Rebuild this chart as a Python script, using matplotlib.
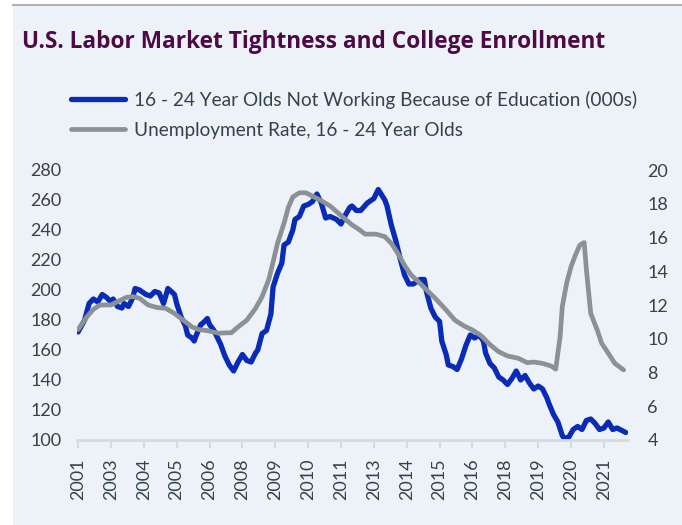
import matplotlib
matplotlib.use("Agg")
import matplotlib.pyplot as plt
from matplotlib.patches import Rectangle
from matplotlib.lines import Line2D

plt.rcParams['font.family'] = ['Lato', 'DejaVu Sans']

# month index (0 = first month shown) and values
blue_month = [0, 3, 5, 7, 9, 11, 13, 15, 16, 18, 20, 21, 23, 25, 26, 28, 31, 33, 35, 37,
              39, 41, 44, 45, 47, 49, 50, 52, 53, 54, 56, 57, 59, 60, 62, 65, 67, 69, 71, 73,
              75, 77, 79, 81, 82, 84, 86, 88, 89, 91, 93, 94, 96, 98, 99, 101, 103, 105, 107, 109,
              111, 113, 115, 118, 120, 122, 124, 125, 127, 129, 132, 135, 137, 140, 141, 143, 145, 147, 149, 151,
              153, 156, 158, 159, 161, 163, 165, 166, 168, 169, 171, 173, 175, 177, 179, 181, 183, 185, 186, 188,
              190, 192, 194, 196, 198, 200, 202, 204, 206, 208, 210, 212, 214, 215, 217, 219, 221, 222, 224, 226,
              228, 230, 232, 234, 236, 238, 240, 242, 244, 246, 250]
blue_value = [172, 180, 191, 194, 192, 197, 195, 192, 194, 189, 188, 191, 189, 195, 201, 200, 197, 196, 199, 198,
              191, 201, 197, 191, 182, 176, 170, 168, 166, 170, 177, 178, 181, 177, 173, 164, 156, 150, 146, 152,
              157, 153, 152, 158, 160, 171, 173, 184, 202, 211, 218, 230, 232, 240, 247, 249, 256, 257, 259, 264,
              258, 248, 249, 247, 244, 250, 255, 256, 253, 253, 258, 261, 267, 260, 256, 243, 233, 221, 210, 204,
              204, 207, 207, 199, 188, 182, 179, 166, 157, 150, 149, 147, 154, 163, 170, 168, 170, 166, 158, 151,
              148, 142, 140, 137, 141, 146, 140, 143, 138, 134, 136, 134, 128, 124, 117, 112, 103, 101, 102, 107,
              109, 107, 113, 114, 111, 107, 108, 112, 107, 108, 105]

gray_month = [0, 4, 7, 10, 15, 18, 22, 25, 28, 32, 36, 40, 44, 48, 52, 55, 59, 64, 70, 73,
              77, 81, 84, 87, 89, 91, 94, 96, 98, 101, 104, 107, 111, 115, 118, 122, 125, 128, 131, 136,
              140, 143, 146, 149, 152, 155, 159, 163, 168, 172, 176, 180, 184, 188, 192, 196, 201, 205, 208, 212,
              216, 218, 220, 221, 223, 225, 227, 229, 231, 232, 234, 237, 239, 242, 245, 249]
gray_value = [10.55, 11.3, 11.75, 12.0, 12.0, 12.2, 12.45, 12.5, 12.4, 12.0, 11.85, 11.8, 11.5, 11.1, 10.7, 10.55, 10.48, 10.33, 10.36, 10.7,
              11.1, 11.8, 12.5, 13.5, 14.55, 15.65, 16.85, 17.8, 18.4, 18.65, 18.65, 18.45, 18.18, 17.87, 17.53, 17.08, 16.75, 16.5, 16.2, 16.2,
              16.05, 15.65, 15.05, 14.35, 13.78, 13.42, 12.9, 12.4, 11.7, 11.1, 10.77, 10.52, 10.18, 9.65, 9.23, 8.98, 8.84, 8.58, 8.62, 8.54,
              8.38, 8.2, 10.1, 11.9, 13.3, 14.27, 14.96, 15.55, 15.7, 14.1, 11.5, 10.5, 9.73, 9.14, 8.54, 8.15]

tick_month = [0, 15, 30, 45, 60, 75, 90, 105, 120, 135, 150, 165, 180, 195, 210, 225, 240]
tick_label = ['2001', '2003', '2004', '2005', '2006', '2008', '2009', '2010', '2011',
              '2013', '2014', '2015', '2016', '2018', '2019', '2020', '2021']
left_ticks = [100, 120, 140, 160, 180, 200, 220, 240, 260, 280]
right_ticks = [4, 6, 8, 10, 12, 14, 16, 18, 20]

blue = '#0a2bb5'
gray = '#8a9296'
txt = '#34424a'
bg = '#edf2f9'

W, H = 682, 525
fig = plt.figure(figsize=(W / 100, H / 100), dpi=100, facecolor='white')
fig.patches.append(Rectangle((13 / W, 0), 1, (H - 5) / H, transform=fig.transFigure,
                             facecolor=bg, edgecolor='none', zorder=-10))
fig.lines.append(Line2D([13 / W, 1], [(H - 5) / H] * 2, transform=fig.transFigure,
                        color='#b0b4b8', lw=1.5, zorder=-5))

ax = fig.add_axes([77 / W, (H - 440) / H, (628 - 77) / W, 270 / H])
ax.set_facecolor('none')
ax.plot(blue_month, blue_value, color=blue, lw=3.8, solid_joinstyle='round', solid_capstyle='round')
ax.set_xlim(-0.5, 251)
ax.set_ylim(100, 280)
ax.set_yticks(left_ticks)
ax.set_xticks(tick_month)
ax.set_xticklabels(tick_label, rotation=90)
for s in ['top', 'right', 'left']:
    ax.spines[s].set_visible(False)
ax.spines['bottom'].set_color('#d6d9dd')
ax.spines['bottom'].set_linewidth(2)
ax.tick_params(axis='x', length=6, width=1.5, color='#d6d9dd', pad=7,
               labelsize=13, labelcolor=txt)
ax.tick_params(axis='y', length=0, pad=11, labelsize=13, labelcolor=txt)

ax2 = ax.twinx()
ax2.plot(gray_month, gray_value, color=gray, lw=3.4, solid_joinstyle='round', solid_capstyle='round')
ax2.set_ylim(4, 20)
ax2.set_yticks(right_ticks)
for s in ax2.spines.values():
    s.set_visible(False)
ax2.tick_params(axis='y', length=0, pad=14, labelsize=13, labelcolor=txt)

fig.text(22 / W, 1 - 48 / H, 'U.S. Labor Market Tightness and College Enrollment',
         fontsize=16.3, fontweight='bold', color='#4d0a45', va='baseline',
         family=['Open Sans', 'DejaVu Sans'])

handles = [Line2D([], [], color=blue, lw=3.8, solid_capstyle='round'),
           Line2D([], [], color=gray, lw=3.4, solid_capstyle='round')]
leg = fig.legend(handles, ['16 - 24 Year Olds Not Working Because of Education (000s)',
                           'Unemployment Rate, 16 - 24 Year Olds'],
                 loc='upper left', bbox_to_anchor=(71 / W, 1 - 91 / H), frameon=False,
                 fontsize=13.7, handlelength=2.85, handletextpad=0.45, labelspacing=0.68,
                 borderpad=0, borderaxespad=0)
for t in leg.get_texts():
    t.set_color(txt)

fig.savefig('out.png', dpi=100, facecolor='white')
